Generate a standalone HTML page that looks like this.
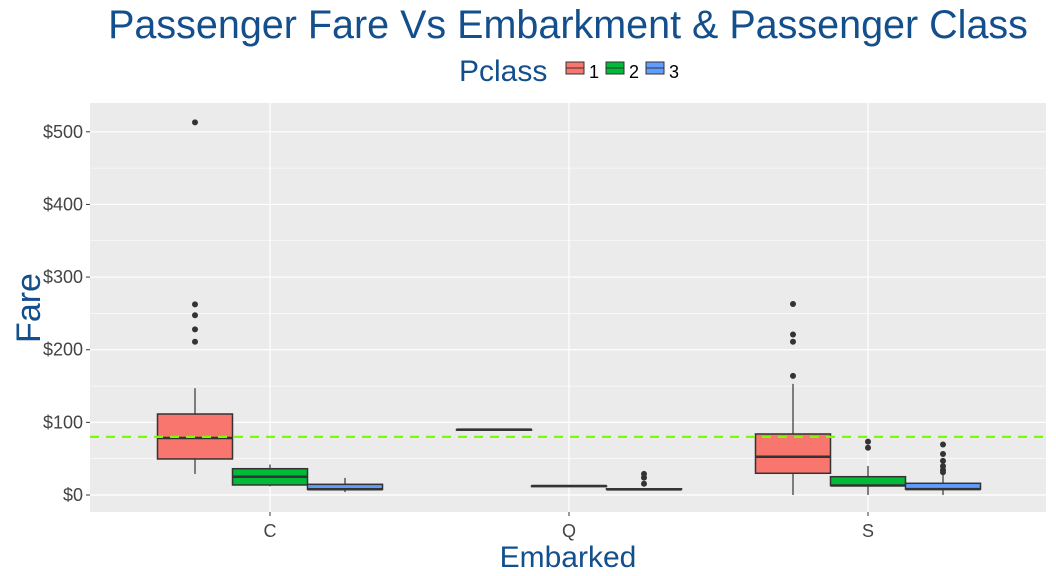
<!DOCTYPE html>
<html><head><meta charset="utf-8"><style>
body{margin:0;background:#fff;}
svg{display:block;font-family:"Liberation Sans",Arial,sans-serif;}
</style></head><body>
<svg id="chart" width="1056" height="576">
<text x="568" y="38" text-anchor="middle" font-size="39.5" fill="#134f8c">Passenger Fare Vs Embarkment &amp; Passenger Class</text>
<g>
<text x="459" y="81" font-size="30" fill="#134f8c">Pclass</text>
<g><rect x="566" y="62" width="18" height="12" fill="#F8766D" stroke="#333"/><line x1="566" y1="68" x2="584" y2="68" stroke="#333"/><text x="589" y="78" font-size="18">1</text></g>
<g><rect x="606" y="62" width="18" height="12" fill="#00BA38" stroke="#333"/><line x1="606" y1="68" x2="624" y2="68" stroke="#333"/><text x="629" y="78" font-size="18">2</text></g>
<g><rect x="646" y="62" width="18" height="12" fill="#619CFF" stroke="#333"/><line x1="646" y1="68" x2="664" y2="68" stroke="#333"/><text x="669" y="78" font-size="18">3</text></g>
</g>
<rect x="90" y="103" width="956" height="409" fill="#EBEBEB"/>
<g id="grid"></g><g id="marks"></g><g id="axes"></g>
<text x="568" y="567" text-anchor="middle" font-size="30" fill="#134f8c">Embarked</text>
<text transform="translate(40,308) rotate(-90)" text-anchor="middle" font-size="34" fill="#134f8c">Fare</text>
</svg>
<script>
const categories=["C","Q","S"];
const classes=["1","2","3"];
const colors=["#F8766D","#00BA38","#619CFF"];
const yTicks=[0,100,200,300,400,500];
const yTickLabels=["$0","$100","$200","$300","$400","$500"];
// [lower whisker, Q1, median, Q3, upper whisker] per category per class
const statsC=[[29,49.6,78.5,111.5,147],[12,13.8,25.2,36.2,42],[4,7.8,7.9,14.7,23.5]];
const statsQ=[[90,90,90,90,90],[12.35,12.35,12.35,12.35,12.35],[7.75,7.75,7.75,8.5,9.5]];
const statsS=[[0,29.9,52.7,84,153],[0,13,13,25.2,40],[0,8.05,8.05,16.1,40]];
const outliersC=[[513,262.5,247.5,228,211],[],[]];
const outliersQ=[[],[],[29,24,15.5]];
const outliersS=[[263,221,211,164],[73.5,65],[69.5,56.5,46.9,39.7,34.4,31.3]];
const meanLine=80;
const stats=[statsC,statsQ,statsS], outs=[outliersC,outliersQ,outliersS];
const NS="http://www.w3.org/2000/svg";
const y=v=>495-v*0.7264;
const xc=i=>270+i*299;
const bw=75;
function mk(t,a,p){const e=document.createElementNS(NS,t);for(const k in a)e.setAttribute(k,a[k]);p.appendChild(e);return e;}
const grid=document.getElementById('grid'),marks=document.getElementById('marks'),axes=document.getElementById('axes');
yTicks.forEach((v,i)=>{
 const m=mk('line',{x1:90,x2:1046,y1:y(v+50),y2:y(v+50),stroke:'#fff','stroke-width':0.6},grid);
 
 const g=mk('line',{x1:90,x2:1046,y1:y(v),y2:y(v),stroke:'#fff','stroke-width':1.2},grid);
 
 const t=mk('text',{x:83,y:y(v)+6,'text-anchor':'end','font-size':18,fill:'#444'},axes);t.textContent=yTickLabels[i];
 
 mk('line',{x1:86,x2:90,y1:y(v),y2:y(v),stroke:'#333'},axes);
});
categories.forEach((c,i)=>{
 const g=mk('line',{x1:xc(i),x2:xc(i),y1:103,y2:512,stroke:'#fff','stroke-width':1.2},grid);
 
 mk('line',{x1:xc(i),x2:xc(i),y1:512,y2:516,stroke:'#333'},axes);
 const t=mk('text',{x:xc(i),y:537,'text-anchor':'middle','font-size':18,fill:'#444'},axes);t.textContent=c;
 
 stats[i].forEach((s,k)=>{
  const cx=xc(i)+(k-1)*bw, x0=cx-bw/2;
  const g=mk('g',{},marks);
  
  mk('line',{x1:cx,x2:cx,y1:y(s[0]),y2:y(s[4]),stroke:'#333','stroke-width':1.2},g);
  mk('rect',{x:x0,y:y(s[3]),width:bw,height:Math.max(0.5,y(s[1])-y(s[3])),fill:colors[k],stroke:'#333','stroke-width':1.5},g);
  mk('line',{x1:x0,x2:x0+bw,y1:y(s[2]),y2:y(s[2]),stroke:'#333','stroke-width':2.5},g);
  outs[i][k].forEach(o=>{const p=mk('circle',{cx:cx,cy:y(o),r:3,fill:'#333'},g);
   });
 });
});
const ml=mk('line',{x1:90,x2:1046,y1:y(meanLine),y2:y(meanLine),stroke:'#7CFC00','stroke-width':2.2,'stroke-dasharray':'9,7'},marks);

</script>
</body></html>
